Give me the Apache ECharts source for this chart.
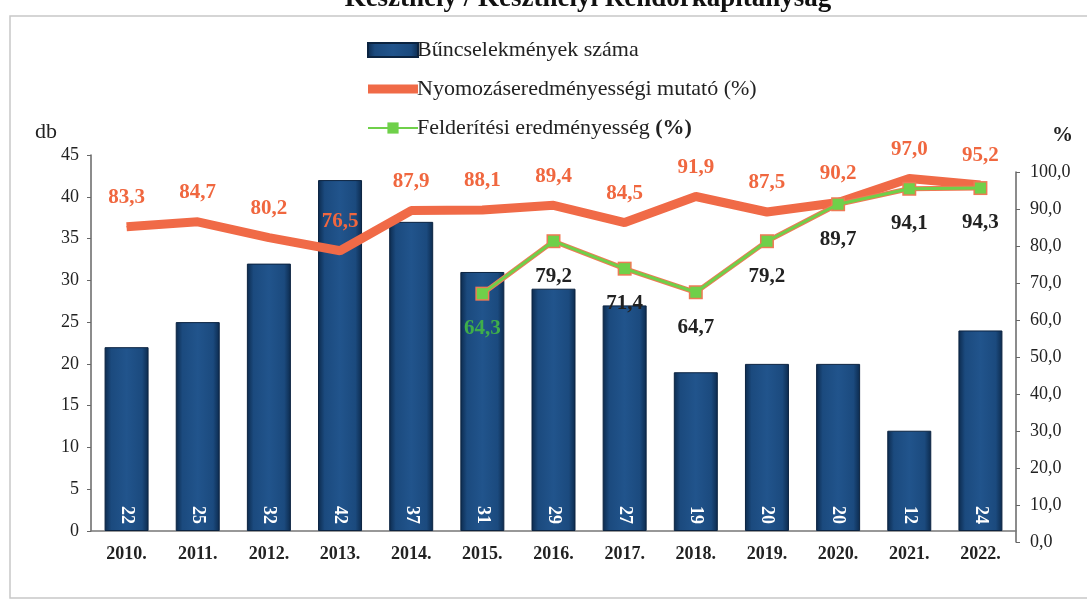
<!DOCTYPE html>
<html>
<head>
<meta charset="utf-8">
<script src="https://cdn.jsdelivr.net/npm/echarts@6/dist/echarts.min.js"></script>
<style>
  html, body { margin: 0; padding: 0; background: #fff; }
  #chart { width: 1087px; height: 609px; }
</style>
</head>
<body>
<div id="chart"></div>
<script>
// évek
var years = ['2010.', '2011.', '2012.', '2013.', '2014.', '2015.', '2016.', '2017.', '2018.', '2019.', '2020.', '2021.', '2022.'];
// bűncselekmények száma (db)
var crimeCounts = [22, 25, 32, 42, 37, 31, 29, 27, 19, 20, 20, 12, 24];
// nyomozáseredményességi mutató (%)
var investigationRate = [83.3, 84.7, 80.2, 76.5, 87.9, 88.1, 89.4, 84.5, 91.9, 87.5, 90.2, 97.0, 95.2];
// felderítési eredményesség (%)
var detectionRate = [null, null, null, null, null, 64.3, 79.2, 71.4, 64.7, 79.2, 89.7, 94.1, 94.3];

var seriesNames = ['Bűncselekmények száma', 'Nyomozáseredményességi mutató (%)', 'Felderítési eredményesség (%)'];
var serif = '"Liberation Serif", "DejaVu Serif", serif';

/**tizedesvessző*/
function fmt(v) {
	return v.toFixed(1).replace('.', ',');
}

var chart = echarts.init(document.getElementById('chart'));

// első felderítési pont zöld felirattal
var firstDetect = detectionRate.findIndex(function(v) { return v !== null; });
var detectData = detectionRate.map(function(v, i) {
	if(i === firstDetect) return { value: v, label: { color: '#3fae4a' } };
	return v;
});

var option = {
	backgroundColor: '#fff',
	animation: false,
	title: {
		text: 'Keszthely / Keszthelyi Rendőrkapitányság',
		left: 583,
		textAlign: 'center',
		top: -19,
		textStyle: { fontFamily: serif, fontSize: 27, fontWeight: 'bold', color: '#111' }
	},
	graphic: [{
		type: 'rect',
		shape: { x: 10, y: 16, width: 1090, height: 582 },
		style: { fill: 'none', stroke: '#c8c8c8', lineWidth: 1.5 },
		silent: true
	}],
	legend: {
		orient: 'vertical',
		left: 362,
		top: 34,
		itemWidth: 50,
		itemHeight: 14,
		itemGap: 17,
		data: [
			{ name: seriesNames[0], icon: 'rect' },
			{ name: seriesNames[1], icon: 'path://M0,0H50V9H0Z' },
			{ name: seriesNames[2] }
		],
		formatter: function(name) {
			if(name === seriesNames[2]) return 'Felderítési eredményesség {b|(%)}';
			return name;
		},
		textStyle: {
			fontFamily: serif, fontSize: 22, color: '#222', padding: [0, 0, 0, -6],
			rich: { b: { fontFamily: serif, fontSize: 22, fontWeight: 'bold', color: '#222' } }
		}
	},
	grid: [
		// oszlopok
		{ left: 91, right: 71, top: 155, height: 376 },
		// jobb oldali tengely
		{ left: 91, right: 71, top: 172, height: 370 },
		// vonalak
		{ left: 91, right: 71, top: 168, height: 352 }
	],
	xAxis: [{
		type: 'category',
		gridIndex: 0,
		data: years,
		axisLine: { lineStyle: { color: '#777', width: 1.5 } },
		axisTick: { show: false },
		axisLabel: { fontFamily: serif, fontSize: 18, fontWeight: 'bold', color: '#222', margin: 14 }
	}, {
		type: 'category',
		gridIndex: 1,
		data: years,
		show: false
	}, {
		type: 'category',
		gridIndex: 2,
		data: years,
		show: false
	}],
	yAxis: [{
		type: 'value',
		gridIndex: 0,
		min: 0, max: 45, interval: 5,
		name: 'db',
		nameLocation: 'end',
		nameGap: 12,
		nameTextStyle: { fontFamily: serif, fontSize: 22, color: '#222', align: 'right', padding: [0, 34, 0, 0] },
		axisLine: { show: true, lineStyle: { color: '#666', width: 1.5 } },
		axisTick: { show: true, inside: false, length: 4, lineStyle: { color: '#666' } },
		axisLabel: { fontFamily: serif, fontSize: 18, color: '#222', margin: 12 },
		splitLine: { show: false }
	}, {
		type: 'value',
		gridIndex: 1,
		position: 'right',
		min: 0, max: 100, interval: 10,
		name: '%',
		nameLocation: 'end',
		nameGap: 26,
		nameTextStyle: { fontFamily: serif, fontSize: 21, fontWeight: 'bold', color: '#222', align: 'left', padding: [0, 0, 0, 36] },
		axisLine: { show: true, lineStyle: { color: '#666', width: 1.5 } },
		axisTick: { show: true, length: 4, lineStyle: { color: '#666' } },
		axisLabel: { fontFamily: serif, fontSize: 18, color: '#222', margin: 14, formatter: function(v) { return fmt(v); } },
		splitLine: { show: false }
	}, {
		type: 'value',
		gridIndex: 2,
		min: 0, max: 100,
		show: false,
		splitLine: { show: false }
	}],
	series: [{
		name: seriesNames[0],
		type: 'bar',
		xAxisIndex: 0,
		yAxisIndex: 0,
		data: crimeCounts,
		barWidth: 44,
		itemStyle: {
			color: new echarts.graphic.LinearGradient(0, 0, 1, 0, [
				{ offset: 0, color: '#0c2a4d' },
				{ offset: 0.15, color: '#1b4a7e' },
				{ offset: 0.5, color: '#21548c' },
				{ offset: 0.85, color: '#1b4a7e' },
				{ offset: 1, color: '#0c2a4d' }
			]),
			borderColor: '#0b2340',
			borderWidth: 1
		},
		label: {
			show: true,
			position: 'insideBottom',
			rotate: -90,
			distance: 7,
			align: 'right',
			verticalAlign: 'middle',
			fontFamily: serif,
			fontSize: 18,
			fontWeight: 'bold',
			color: '#fff'
		},
		z: 2
	}, {
		name: seriesNames[1],
		type: 'line',
		xAxisIndex: 2,
		yAxisIndex: 2,
		data: investigationRate,
		symbol: 'circle',
		symbolSize: 1,
		showSymbol: true,
		lineStyle: { color: '#f06a47', width: 9 },
		itemStyle: { color: '#f06a47' },
		label: {
			show: true,
			position: 'top',
			distance: 18,
			fontFamily: serif,
			fontSize: 21,
			fontWeight: 'bold',
			color: '#f0673f',
			formatter: function(p) { return fmt(p.value); }
		},
		labelLayout: { hideOverlap: false },
		z: 4
	}, {
		// narancs körvonal a zöld vonal alatt
		type: 'line',
		xAxisIndex: 2,
		yAxisIndex: 2,
		data: detectionRate,
		symbol: 'rect',
		symbolSize: 14,
		lineStyle: { color: '#ee7a55', width: 5 },
		itemStyle: { color: '#ee7a55' },
		silent: true,
		z: 5
	}, {
		name: seriesNames[2],
		type: 'line',
		xAxisIndex: 2,
		yAxisIndex: 2,
		data: detectData,
		symbol: 'rect',
		symbolSize: 11,
		lineStyle: { color: '#6fd04a', width: 3 },
		itemStyle: { color: '#6fd04a' },
		label: {
			show: true,
			position: 'bottom',
			distance: 19,
			fontFamily: serif,
			fontSize: 21,
			fontWeight: 'bold',
			color: '#222',
			formatter: function(p) { return fmt(p.value); }
		},
		z: 6
	}]
};

chart.setOption(option);
</script>
</body>
</html>
